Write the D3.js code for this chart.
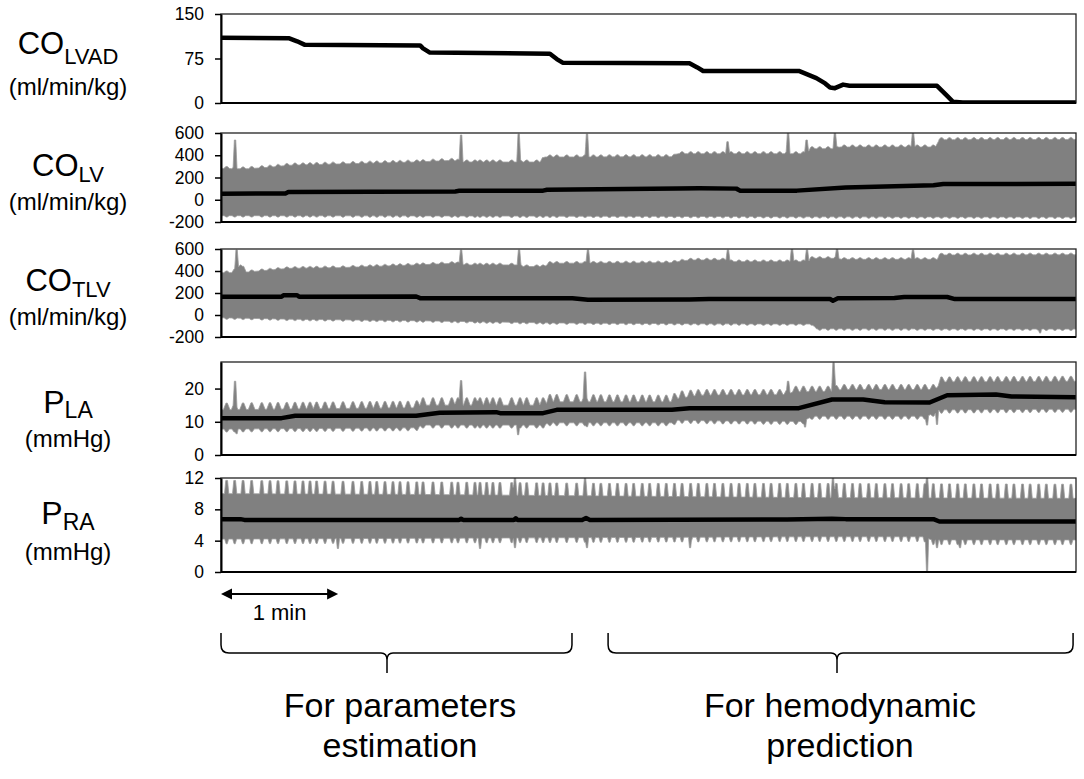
<!DOCTYPE html>
<html><head><meta charset="utf-8">
<script src="https://cdn.jsdelivr.net/npm/d3@7"></script>
<style>
body{margin:0;background:#fff;}
svg{display:block;font-family:"Liberation Sans",Arial,Helvetica,sans-serif;}
</style>
</head><body>
<svg id="chart" width="1084" height="779"></svg>
<script>
// ---------------- DATA (time in seconds) ----------------
const T_END = 438;
const scaleBarSec = 60;

const lvadTicks = [0, 75, 150];
const coTicks = [-200, 0, 200, 400, 600];
const laTicks = [0, 10, 20];
const raTicks = [0, 4, 8, 12];

// respiratory cycle peak times (s)
const respTimes = [2.9,7.0,11.3,15.7,20.9,25.1,29.2,33.7,37.9,42.0,45.6,49.0,53.3,57.4,62.5,67.6,72.1,76.3,79.8,84.0,88.1,91.7,95.8,100.3,103.5,108.6,113.1,118.2,121.4,125.9,130.1,132.7,136.1,139.3,142.9,148.9,153.2,156.6,161.7,165.0,168.5,172.0,177.1,182.2,186.5,190.8,194.6,199.0,203.1,207.5,211.4,215.8,219.6,224.0,228.1,232.3,236.2,240.6,244.5,248.9,252.8,257.1,261.3,265.4,269.6,273.5,277.9,281.8,286.2,290.1,294.5,298.4,302.8,306.7,311.0,315.2,319.3,323.5,327.4,331.8,335.7,340.1,344.0,348.4,352.3,356.7,360.6,364.9,369.1,373.2,377.4,381.3,385.7,389.6,394.0,397.9,402.3,406.2,410.6,414.5,418.9,422.8,427.2,431.1,435.4];

// CO_LVAD
const lvadMean = [[0,110],[35,109],[39,104],[43,98],[102,97],[103.5,92],[107,85],[168.5,83],[172,74],[175,68],[240,67],[244,60],[247,54],[296,54],[305,42],[309.5,33],[312,26],[314.5,25],[318.7,31],[322,29],[366.8,29],[372,12],[375,2],[380,1],[438,1]];

// CO_LV
const lvMean = [[0,55],[33,57],[34.5,70],[120,75],[122,80],[165,82],[167,90],[234,102],[245,103],[264,100],[266,82],[295,82],[320,110],[365,130],[370,142],[438,143]];
const lvHi = [[0,282],[12,277],[25,292],[35,310],[66,324],[100,339],[118,354],[124,339],[164,339],[166,384],[232,387],[234,414],[300,414],[302,459],[315,459],[317,474],[366,474],[368,540],[438,542]];
const lvHiPeak = [[0,300],[12,295],[25,310],[35,328],[66,342],[100,357],[118,372],[124,357],[164,357],[166,402],[232,405],[234,432],[300,432],[302,477],[315,477],[317,492],[366,492],[368,558],[438,560]];
const lvLo = [[0,-143],[100,-145],[200,-148],[300,-153],[438,-156]];
const lvLoDip = [[0,-155],[100,-157],[200,-160],[300,-165],[438,-168]];
const lvSpikes = [[7.2,537],[123,582],[152.5,591],[187.5,591],[259.5,522],[290.5,600],[300,537],[314.5,600],[354.5,600]];
const lvDeep = [];

// CO_TLV
const tlvMean = [[0,166],[31,166],[32,180],[39,180],[40,167],[100,168],[102,153],[180,152],[188,138],[240,142],[250,145],[312,145],[313.5,130],[316,152],[345,155],[350,164],[372,164],[376,145],[438,145]];
const tlvHi = [[0,385],[6,385],[10,457],[13,390],[35,424],[60,430],[100,455],[120,470],[125,455],[152,455],[154,440],[166,440],[168,470],[230,475],[240,500],[259,500],[261,485],[291,485],[301,485],[302,515],[316,515],[318,506],[367,506],[368,546],[438,547]];
const tlvHiPeak = [[0,400],[6,400],[10,472],[13,405],[35,439],[60,445],[100,470],[120,485],[125,470],[152,470],[154,455],[166,455],[168,485],[230,490],[240,515],[259,515],[261,500],[291,500],[301,500],[302,530],[316,530],[318,521],[367,521],[368,561],[438,562]];
const tlvLo = [[0,-25],[35,-38],[100,-52],[170,-72],[250,-80],[303,-82],[305,-125],[438,-128]];
const tlvLoDip = [[0,-37],[35,-50],[100,-64],[170,-84],[250,-92],[303,-94],[305,-138],[438,-140]];
const tlvSpikes = [[8,591],[123,591],[152.7,591],[188,591],[259.7,591],[292.5,600],[300.2,591],[315.6,600],[354.5,591]];
const tlvDeep = [[419.6,-164]];

// P_LA
const laMean = [[0,11.1],[31,11.1],[38,11.8],[100,11.8],[112,12.7],[141,12.9],[143,12.6],[165,12.6],[172,13.6],[231,13.6],[240,14.1],[296,14.1],[313,16.7],[329,16.7],[340,15.9],[363,15.8],[372,18.0],[397,18.2],[405,17.6],[438,17.4]];
const laHi = [[0,13.6],[60,14.0],[100,14.2],[103,15.0],[165,15.0],[168,16.0],[231,16.0],[234,17.0],[245,18.0],[290,18.2],[293,19.0],[313,19.2],[318,19.7],[366,19.7],[369,22.0],[438,22.2]];
const laHiPeak = [[0,15.6],[60,16.0],[100,16.2],[103,17.2],[165,17.2],[168,18.2],[231,18.0],[234,19.2],[245,19.7],[290,19.7],[293,20.7],[313,20.7],[318,21.2],[366,21.2],[369,23.5],[438,23.7]];
const laLo = [[0,7.8],[100,8.2],[103,9.0],[165,9.0],[168,9.7],[231,9.7],[234,10.5],[250,10.3],[298,10.1],[303,11.7],[362,11.7],[368,13.6],[438,13.8]];
const laLoDip = [[0,6.9],[100,7.3],[103,8.1],[165,8.1],[168,8.8],[231,8.8],[234,9.6],[250,9.4],[298,9.2],[303,10.8],[362,10.8],[368,12.6],[438,12.9]];
const laSpikes = [[7.2,22.2],[123,22.4],[186.5,25],[290.5,22.2],[313.8,27.8]];
const laDeep = [[8,6.4],[152.2,6.1],[187.5,8.5],[299.2,8.4],[361.7,9.0],[366.8,9.2]];

// P_RA
const raMean = [[0,6.75],[10,6.75],[12,6.65],[122,6.65],[123,6.8],[124,6.65],[150,6.65],[151,6.85],[152,6.65],[185,6.65],[187,6.9],[189,6.65],[290,6.7],[313,6.8],[320,6.75],[365,6.75],[368,6.45],[438,6.45]];
const raHi = [[0,10.0],[100,9.9],[200,9.7],[300,9.5],[438,9.4]];
const raHiPeak = [[0,11.7],[100,11.5],[200,11.3],[300,11.3],[438,11.2]];
const raLo = [[0,4.2],[100,4.3],[200,4.4],[300,4.5],[360,4.5],[364,4.1],[438,4.1]];
const raLoDip = [[0,3.6],[100,3.7],[200,3.8],[300,3.9],[360,3.9],[364,3.5],[438,3.5]];
const raSpikes = [[150.6,12],[186.5,12],[313.5,12],[361.7,12]];
const raDeep = [[59.9,3.0],[132.7,3.0],[150.6,3.1],[187.5,3.1],[240.3,3.1],[361.7,0],[366.8,3.1],[378.6,3.1]];

// analysis segments [start s, end s] and their labels
const segments = [[0,179.8],[198.3,436.5]];
const segmentText = [["For parameters","estimation"],["For hemodynamic","prediction"]];

// ---------------- LAYOUT ----------------
const X0 = 221, X1 = 1076;
const x = d3.scaleLinear().domain([0, T_END]).range([X0, X1]);

const panels = [
  {main:"CO", sub:"LVAD", unit:"(ml/min/kg)", domain:[0,150], ticks:lvadTicks, mean:lvadMean, env:null,
   top:14, bottom:103, mainY:54, subDy:10, unitY:95, mainSize:31, subSize:22},
  {main:"CO", sub:"LV", unit:"(ml/min/kg)", domain:[-200,600], ticks:coTicks, mean:lvMean,
   env:{hi:lvHi, hiPk:lvHiPeak, lo:lvLo, loDip:lvLoDip, spikes:lvSpikes, deep:lvDeep, bhw:1.5, btw:0.3, dhw:1.3, dtw:0.3},
   top:133, bottom:222, mainY:176, subDy:6, unitY:210, mainSize:31, subSize:22},
  {main:"CO", sub:"TLV", unit:"(ml/min/kg)", domain:[-200,600], ticks:coTicks, mean:tlvMean,
   env:{hi:tlvHi, hiPk:tlvHiPeak, lo:tlvLo, loDip:tlvLoDip, spikes:tlvSpikes, deep:tlvDeep, bhw:1.5, btw:0.3, dhw:1.3, dtw:0.3},
   top:249, bottom:337, mainY:291, subDy:6, unitY:325, mainSize:31, subSize:22},
  {main:"P", sub:"LA", unit:"(mmHg)", domain:[0,28], ticks:laTicks, mean:laMean,
   env:{hi:laHi, hiPk:laHiPeak, lo:laLo, loDip:laLoDip, spikes:laSpikes, deep:laDeep, bhw:1.7, btw:0.35, dhw:1.4, dtw:0.3},
   top:362, bottom:455, mainY:413, subDy:5, unitY:447, mainSize:32, subSize:23},
  {main:"P", sub:"RA", unit:"(mmHg)", domain:[0,12], ticks:raTicks, mean:raMean,
   env:{hi:raHi, hiPk:raHiPeak, lo:raLo, loDip:raLoDip, spikes:raSpikes, deep:raDeep, bhw:1.1, btw:0.45, dhw:1.0, dtw:0.3},
   top:478, bottom:572, mainY:524, subDy:6, unitY:560, mainSize:32, subSize:23}
];

const svg = d3.select("#chart");

function lerp(knots, t){
  const i = d3.bisector(d => d[0]).right(knots, t);
  if (i <= 0) return knots[0][1];
  if (i >= knots.length) return knots[knots.length-1][1];
  const a = knots[i-1], b = knots[i];
  if (b[0] === a[0]) return b[1];
  return a[1] + (b[1]-a[1])*(t-a[0])/(b[0]-a[0]);
}
function shapeVal(t, tp, hw, tw, peak, base){
  if (t <= tp-hw || t >= tp+hw) return base;
  if (t >= tp-tw && t <= tp+tw) return peak;
  if (t < tp) return base + (peak-base)*(t-(tp-hw))/(hw-tw);
  return base + (peak-base)*((tp+hw)-t)/(hw-tw);
}
function boundary(baseK, bumpK, bumpHw, bumpTw, extra, exHw, exTw, dir){
  let ts = new Set([0, T_END]);
  baseK.forEach(k => ts.add(k[0]));
  const shapes = [];
  respTimes.forEach(tp => shapes.push({tp, hw:bumpHw, tw:bumpTw, v:lerp(bumpK, tp)}));
  extra.forEach(([tp, v]) => shapes.push({tp, hw:exHw, tw:exTw, v}));
  shapes.forEach(s => [s.tp-s.hw, s.tp-s.tw, s.tp+s.tw, s.tp+s.hw].forEach(t => ts.add(t)));
  ts = [...ts].filter(t => t >= 0 && t <= T_END).sort((a,b) => a-b);
  return ts.map(t => {
    const b = lerp(baseK, t); let v = b;
    for (const s of shapes){
      if (t <= s.tp-s.hw || t >= s.tp+s.hw) continue;
      const sv = shapeVal(t, s.tp, s.hw, s.tw, s.v, b);
      v = dir > 0 ? Math.max(v, sv) : Math.min(v, sv);
    }
    return [t, v];
  });
}

panels.forEach((p, i) => {
  const y = d3.scaleLinear().domain(p.domain).range([p.bottom, p.top]);
  const g = svg.append("g");
  const clipId = "clip" + i;
  svg.append("clipPath").attr("id", clipId).append("rect")
    .attr("x", X0).attr("y", p.top).attr("width", X1 - X0).attr("height", p.bottom - p.top);

  const line = d3.line().x(d => x(d[0])).y(d => y(d[1]));

  if (p.env){
    const e = p.env;
    const upper = boundary(e.hi, e.hiPk, e.bhw, e.btw, e.spikes, 1.0, 0.35, 1);
    const lower = boundary(e.lo, e.loDip, e.dhw, e.dtw, e.deep, 0.8, 0.3, -1);
    const pts = upper.concat(lower.slice().reverse());
    g.append("path").attr("clip-path", `url(#${clipId})`)
      .attr("d", line(pts) + "Z")
      .attr("fill", "#808080").attr("stroke", "#9c9c9c").attr("stroke-width", 0.8)
      .attr("stroke-linejoin", "round");
  }
  g.append("path").attr("clip-path", `url(#${clipId})`)
    .attr("d", line(p.mean)).attr("fill", "none")
    .attr("stroke", "#000").attr("stroke-width", 4.5)
    .attr("stroke-linejoin", "round").attr("stroke-linecap", "butt");

  // frame
  g.append("rect").attr("x", X0).attr("y", p.top).attr("width", X1 - X0).attr("height", p.bottom - p.top)
    .attr("fill", "none").attr("stroke", "#222").attr("stroke-width", 1.3);
  g.append("line").attr("x1", X0).attr("x2", X1).attr("y1", p.bottom).attr("y2", p.bottom)
    .attr("stroke", "#000").attr("stroke-width", 2);

  const ax = g.append("g").attr("transform", `translate(${X0},0)`)
    .call(d3.axisLeft(y).tickValues(p.ticks).tickFormat(d => String(d))
      .tickSize(6).tickSizeOuter(0).tickPadding(11));
  ax.select(".domain").attr("stroke", "#000").attr("stroke-width", 2);
  ax.selectAll(".tick line").attr("stroke", "#000").attr("stroke-width", 1.5);
  ax.selectAll(".tick text").attr("font-size", 17.5).attr("fill", "#000")
    .attr("font-family", '"Liberation Sans", Arial, sans-serif');

  // label
  const t = svg.append("text").attr("x", 68).attr("y", p.mainY).attr("text-anchor", "middle").attr("fill", "#000");
  t.append("tspan").attr("font-size", p.mainSize).text(p.main);
  t.append("tspan").attr("font-size", p.subSize).attr("dy", p.subDy).text(p.sub);
  svg.append("text").attr("x", 68).attr("y", p.unitY).attr("text-anchor", "middle")
    .attr("font-size", 24).attr("fill", "#000").text(p.unit);
});

// scale bar (1 min)
const arrowY = 594;
const ax0 = x(0), ax1 = x(scaleBarSec);
svg.append("line").attr("x1", ax0 + 6).attr("x2", ax1 - 6).attr("y1", arrowY).attr("y2", arrowY)
  .attr("stroke", "#000").attr("stroke-width", 2);
svg.append("path").attr("d", `M${ax0},${arrowY} L${ax0+11},${arrowY-5.5} L${ax0+11},${arrowY+5.5}Z`).attr("fill", "#000");
svg.append("path").attr("d", `M${ax1},${arrowY} L${ax1-11},${arrowY-5.5} L${ax1-11},${arrowY+5.5}Z`).attr("fill", "#000");
svg.append("text").attr("x", (ax0 + ax1) / 2).attr("y", 620).attr("text-anchor", "middle")
  .attr("font-size", 22).attr("fill", "#000").text("1 min");

// braces + labels
const braceTips = [387, 837];
const textCenters = [400, 840];
segments.forEach((s, i) => {
  const a = x(s[0]), b = x(s[1]), m = braceTips[i];
  const yTop = 633, yH = 653, yTip = 673;
  const d = `M${a},${yTop} L${a},${yH-8} Q${a},${yH} ${a+8},${yH} L${m-6},${yH} Q${m},${yH} ${m},${yH+7} L${m},${yTip}` +
            ` M${m},${yH+7} Q${m},${yH} ${m+6},${yH} L${b-8},${yH} Q${b},${yH} ${b},${yH-8} L${b},${yTop}`;
  svg.append("path").attr("d", d).attr("fill", "none").attr("stroke", "#000").attr("stroke-width", 1.5);
  segmentText[i].forEach((line, j) => {
    svg.append("text").attr("x", textCenters[i]).attr("y", 717 + j * 40).attr("text-anchor", "middle")
      .attr("font-size", 34).attr("fill", "#000").text(line);
  });
});
</script>
</body></html>
